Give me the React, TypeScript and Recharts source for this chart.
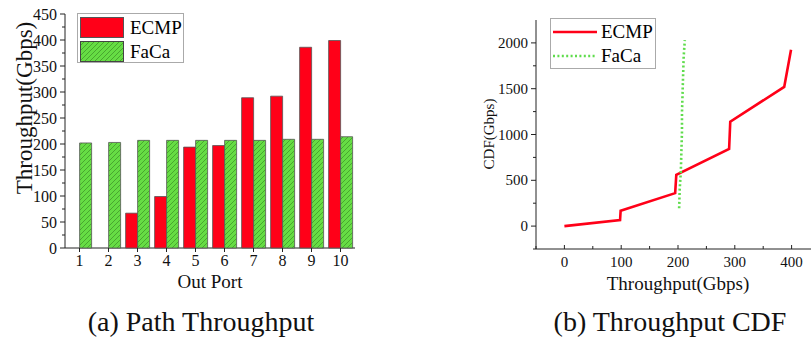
import { Bar, BarChart, CartesianGrid, Line, LineChart, XAxis, YAxis } from 'recharts';

const ports = ['1', '2', '3', '4', '5', '6', '7', '8', '9', '10'];
const ecmpThroughput = [0, 0, 67, 99, 194, 197, 289, 292, 386, 399];
const facaThroughput = [202, 203, 207, 207, 207, 207, 207, 209, 209, 214];
const barTicks = [0, 25, 50, 75, 100, 125, 150, 175, 200, 225, 250, 275, 300, 325, 350, 375, 400, 425, 450];
const barMajor = [0, 50, 100, 150, 200, 250, 300, 350, 400, 450];

const ecmpCdfX = [0, 98, 99, 195, 197, 290, 292, 387, 399];
const ecmpCdfY = [0, 65, 168, 360, 560, 843, 1140, 1520, 1925];
const facaCdfX = [202, 203, 205, 206, 207, 207, 208, 209, 210, 212];
const facaCdfY = [195, 400, 600, 820, 1030, 1240, 1440, 1650, 1850, 2030];
const cdfXTicks = [-50, 0, 50, 100, 150, 200, 250, 300, 350, 400];
const cdfXMajor = [0, 100, 200, 300, 400];
const cdfYTicks = [-250, 0, 250, 500, 750, 1000, 1250, 1500, 1750, 2000];
const cdfYMajor = [0, 500, 1000, 1500, 2000];

const seriesNames = ['ECMP', 'FaCa'];

const RED = '#ff0018';
const GREEN = '#66dd44';
const DOT_GREEN = '#5fdc4c';
const FONT = '"Liberation Serif", "Times New Roman", serif';
const AXIS = '#222';

const barData = ports.map((p, i) => ({ port: p, ecmp: ecmpThroughput[i], faca: facaThroughput[i] }));
const ecmpCdf = ecmpCdfX.map((x, i) => ({ x, y: ecmpCdfY[i] }));
const facaCdf = facaCdfX.map((x, i) => ({ x, y: facaCdfY[i] }));

// tick mark + label drawn together; x/y come from the axis (tickSize and tickMargin are 0)
function leftTick(major: number[], size: number) {
  return ({ x, y, payload }: any) => {
    const isMajor = major.includes(payload.value);
    return (
      <g>
        <line x1={x - (isMajor ? 5 : 3)} x2={x} y1={y} y2={y} stroke={AXIS} />
        {isMajor && (
          <text x={x - 8} y={y} textAnchor="end" dominantBaseline="central" fontSize={size} fontFamily={FONT} fill="#111">
            {payload.value}
          </text>
        )}
      </g>
    );
  };
}

function bottomTick(major: number[] | null, size: number, inward: boolean) {
  return ({ x, y, payload }: any) => {
    const isMajor = major === null || major.includes(payload.value);
    const len = isMajor ? 4 : 3;
    return (
      <g>
        <line x1={x} x2={x} y1={y} y2={inward ? y - len : y + len} stroke={AXIS} />
        {isMajor && (
          <text x={x} y={y + 18} textAnchor="middle" fontSize={size} fontFamily={FONT} fill="#111">
            {payload.value}
          </text>
        )}
      </g>
    );
  };
}

// axis lines along the left and bottom edge of the plot area
const leftEdge = ({ offset }: any) => [offset.left];
const bottomEdge = ({ offset }: any) => [offset.top + offset.height];

// rotated axis title, placed at a fixed spot inside the chart svg
function VerticalTitle({ x, y, size, text }: { x: number; y: number; size: number; text: string }) {
  return () => (
    <text
      x={x}
      y={y}
      transform={`rotate(-90 ${x} ${y})`}
      textAnchor="middle"
      dominantBaseline="central"
      fontSize={size}
      fontFamily={FONT}
      fill="#111"
    >
      {text}
    </text>
  );
}

const leftTitle = VerticalTitle({ x: 24, y: 108, size: 23, text: 'Throughput(Gbps)' });
const rightTitle = VerticalTitle({ x: 49, y: 134, size: 15, text: 'CDF(Gbps)' });

function HatchDefs({ id }: { id: string }) {
  return (
    <defs>
      <pattern id={id} width={5} height={5} patternUnits="userSpaceOnUse">
        <rect width={5} height={5} fill={GREEN} />
        <path d="M-1,1 l2,-2 M0,5 l5,-5 M4,6 l2,-2" stroke="#3b8f25" strokeWidth={0.7} />
      </pattern>
    </defs>
  );
}

export default function App() {
  return (
    <div
      style={{
        position: 'absolute',
        left: 0,
        top: 0,
        width: 811,
        height: 339,
        overflow: 'hidden',
        background: '#fff',
        fontFamily: FONT,
      }}
    >
      {/* (a) path throughput */}
      <div style={{ position: 'absolute', left: 0, top: 0 }}>
        <BarChart
          id="pathThroughput"
          width={370}
          height={339}
          data={barData}
          margin={{ top: 14, right: 15, bottom: 0, left: 0 }}
          barCategoryGap="9%"
          barGap={0}
        >
          <HatchDefs id="hatchBar" />
          <CartesianGrid
            stroke={AXIS}
            strokeDasharray="0"
            verticalCoordinatesGenerator={leftEdge}
            horizontalCoordinatesGenerator={bottomEdge}
          />
          <XAxis
            dataKey="port"
            height={91}
            axisLine={false}
            tickLine={false}
            tickSize={0}
            tickMargin={0}
            interval={0}
            tick={bottomTick(null, 16, false)}
            label={{ value: 'Out Port', position: 'insideTop', offset: 27, fill: '#111', fontSize: 19, fontFamily: FONT }}
          />
          <YAxis
            width={65}
            domain={[0, 450]}
            ticks={barTicks}
            axisLine={false}
            tickLine={false}
            tickSize={0}
            tickMargin={0}
            interval={0}
            tick={leftTick(barMajor, 16)}
            label={{ content: leftTitle }}
          />
          <Bar dataKey="ecmp" name={seriesNames[0]} fill={RED} stroke="#555" strokeWidth={0.8} isAnimationActive={false} />
          <Bar dataKey="faca" name={seriesNames[1]} fill="url(#hatchBar)" stroke="#555" strokeWidth={0.8} isAnimationActive={false} />
        </BarChart>
      </div>

      {/* legend (a) */}
      <div
        style={{
          position: 'absolute',
          left: 77,
          top: 13,
          width: 107,
          height: 50,
          border: '1px solid #aaa',
          boxSizing: 'border-box',
          background: '#fff',
          fontSize: 19,
          lineHeight: '23px',
        }}
      >
        <div style={{ display: 'flex', alignItems: 'center', marginTop: 2, marginLeft: 2 }}>
          <div style={{ width: 44, height: 21, background: RED, border: '1px solid #555', boxSizing: 'border-box' }} />
          <span style={{ marginLeft: 6 }}>{seriesNames[0]}</span>
        </div>
        <div style={{ display: 'flex', alignItems: 'center', marginTop: 1, marginLeft: 2 }}>
          <svg width={44} height={21}>
            <HatchDefs id="hatchLegend" />
            <rect x={0.5} y={0.5} width={43} height={20} fill="url(#hatchLegend)" stroke="#444" />
          </svg>
          <span style={{ marginLeft: 6 }}>{seriesNames[1]}</span>
        </div>
      </div>

      {/* (b) throughput CDF */}
      <div style={{ position: 'absolute', left: 440, top: 0 }}>
        <LineChart
          id="throughputCdf"
          width={380}
          height={339}
          data={ecmpCdf}
          margin={{ top: 20, right: 0, bottom: 0, left: 0 }}
        >
          <CartesianGrid
            stroke={AXIS}
            strokeDasharray="0"
            verticalCoordinatesGenerator={leftEdge}
            horizontalCoordinatesGenerator={bottomEdge}
          />
          <XAxis
            dataKey="x"
            type="number"
            domain={[-50, 450]}
            ticks={cdfXTicks}
            height={90}
            axisLine={false}
            tickLine={false}
            tickSize={0}
            tickMargin={0}
            interval={0}
            tick={bottomTick(cdfXMajor, 15, true)}
            label={{ value: 'Throughput(Gbps)', position: 'insideTop', offset: 28, fill: '#111', fontSize: 19, fontFamily: FONT }}
          />
          <YAxis
            width={96}
            domain={[-250, 2250]}
            ticks={cdfYTicks}
            axisLine={false}
            tickLine={false}
            tickSize={0}
            tickMargin={0}
            interval={0}
            tick={leftTick(cdfYMajor, 15)}
            label={{ content: rightTitle }}
          />
          <Line
            dataKey="y"
            name={seriesNames[0]}
            type="linear"
            stroke={RED}
            strokeWidth={2.6}
            dot={false}
            isAnimationActive={false}
          />
          <Line
            data={facaCdf}
            dataKey="y"
            name={seriesNames[1]}
            type="linear"
            stroke={DOT_GREEN}
            strokeWidth={2.6}
            strokeDasharray="2 2.4"
            dot={false}
            isAnimationActive={false}
          />
        </LineChart>
      </div>

      {/* legend (b) */}
      <div
        style={{
          position: 'absolute',
          left: 550,
          top: 18,
          width: 106,
          height: 51,
          border: '1px solid #aaa',
          boxSizing: 'border-box',
          background: '#fff',
          fontSize: 19,
          lineHeight: '23px',
        }}
      >
        <div style={{ display: 'flex', alignItems: 'center', marginTop: 1, marginLeft: 1 }}>
          <svg width={46} height={22}>
            <line x1={1} y1={11} x2={45} y2={11} stroke={RED} strokeWidth={2.6} />
          </svg>
          <span style={{ marginLeft: 3 }}>{seriesNames[0]}</span>
        </div>
        <div style={{ display: 'flex', alignItems: 'center', marginTop: 1, marginLeft: 1 }}>
          <svg width={46} height={22}>
            <line x1={1} y1={11} x2={45} y2={11} stroke={DOT_GREEN} strokeWidth={2.6} strokeDasharray="2 2.4" />
          </svg>
          <span style={{ marginLeft: 3 }}>{seriesNames[1]}</span>
        </div>
      </div>

      {/* captions */}
      <svg width={811} height={339} style={{ position: 'absolute', left: 0, top: 0, pointerEvents: 'none' }}>
        <text x={201} y={331} textAnchor="middle" fontSize={28} fontFamily={FONT} fill="#111">
          (a) Path Throughput
        </text>
        <text x={670} y={331} textAnchor="middle" fontSize={28} fontFamily={FONT} fill="#111">
          (b) Throughput CDF
        </text>
      </svg>
    </div>
  );
}
